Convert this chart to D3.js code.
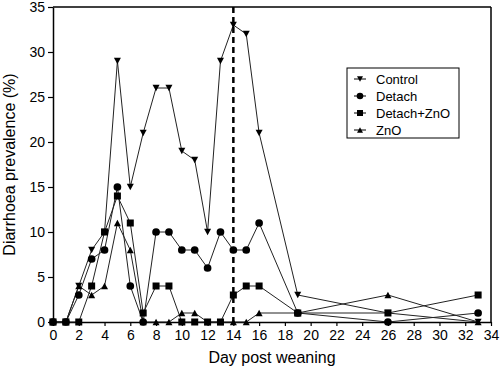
<!DOCTYPE html>
<html>
<head>
<meta charset="utf-8">
<script src="https://cdn.jsdelivr.net/npm/d3@7"></script>
<style>
	body { margin: 0; background: #fff; }
	text { font-family: "Liberation Sans", Arial, sans-serif; }
</style>
</head>
<body>
<div id="chart"></div>
<script>
// Days sampled post weaning
const days = [0, 1, 2, 3, 4, 5, 6, 7, 8, 9, 10, 11, 12, 13, 14, 15, 16, 19, 26, 33]

// Prevalence (%) per group
const control = [0, 0, 4, 8, 10, 29, 15, 21, 26, 26, 19, 18, 10, 29, 33, 32, 21, 3, 1, 0]
const detach = [0, 0, 3, 7, 8, 15, 4, 0, 10, 10, 8, 8, 6, 10, 8, 8, 11, 1, 0, 1]
const detachZnO = [0, 0, 0, 4, 10, 14, 11, 1, 4, 4, 0, 0, 0, 0, 3, 4, 4, 1, 1, 3]
const zno = [0, 0, 4, 3, 4, 11, 8, 0, 0, 0, 1, 1, 0, 0, 0, 0, 1, 1, 3, 0]

const xTicks = d3.range(0, 35, 2)
const yTicks = d3.range(0, 40, 5)
const weaningMark = 14

const series = [
	{ label: "Control", values: control, symbol: "down" },
	{ label: "Detach", values: detach, symbol: "circle" },
	{ label: "Detach+ZnO", values: detachZnO, symbol: "square" },
	{ label: "ZnO", values: zno, symbol: "up" },
]

const width = 500
const height = 375
const margin = { top: 7, right: 9, bottom: 53, left: 53 }

const svg = d3
	.select("#chart")
	.append("svg")
	.attr("width", width)
	.attr("height", height)

const xScale = d3
	.scaleLinear()
	.domain([0, 34])
	.range([margin.left, width - margin.right])

const yScale = d3
	.scaleLinear()
	.domain([0, 35])
	.range([height - margin.bottom, margin.top])

// Draw a marker shape centred at 0,0
const drawMarker = (g, symbol, s) => {
	if (symbol === "circle") {
		g.append("circle").attr("r", s * 0.55).attr("fill", "#000")
	} else if (symbol === "square") {
		g.append("rect")
			.attr("x", -s / 2)
			.attr("y", -s / 2)
			.attr("width", s)
			.attr("height", s)
			.attr("fill", "#000")
	} else {
		const h = s * 0.95
		const pts =
			symbol === "down"
				? [[-s / 2, -h / 2], [s / 2, -h / 2], [0, h / 2]]
				: [[-s / 2, h / 2], [s / 2, h / 2], [0, -h / 2]]
		g.append("path")
			.attr("d", "M" + pts.join("L") + "Z")
			.attr("fill", "#000")
	}
}

// Frame top and right
svg.append("line")
	.attr("x1", xScale(0))
	.attr("x2", xScale(34))
	.attr("y1", yScale(35))
	.attr("y2", yScale(35))
	.attr("stroke", "#000")
	.attr("stroke-width", 1.5)

svg.append("line")
	.attr("x1", xScale(34))
	.attr("x2", xScale(34))
	.attr("y1", yScale(35))
	.attr("y2", yScale(0))
	.attr("stroke", "#000")
	.attr("stroke-width", 1.5)

// Axes
const xAxis = svg
	.append("g")
	.attr("transform", `translate(0,${yScale(0)})`)
	.call(d3.axisBottom(xScale).tickValues(xTicks).tickSize(4).tickSizeOuter(0).tickPadding(4))

const yAxis = svg
	.append("g")
	.attr("transform", `translate(${xScale(0)},0)`)
	.call(d3.axisLeft(yScale).tickValues(yTicks).tickSize(5).tickSizeOuter(0).tickPadding(3))

;[xAxis, yAxis].forEach((ax) => {
	ax.select(".domain").attr("stroke-width", 1.5)
	ax.selectAll(".tick line").attr("stroke-width", 1.2)
	ax.selectAll("text")
		.style("font-size", "14px")
		.style("font-family", "Liberation Sans, Arial, sans-serif")
		.attr("fill", "#000")
})

// Lines
const line = d3
	.line()
	.x((d) => xScale(d.day))
	.y((d) => yScale(d.v))

series.forEach((s) => {
	const pts = days.map((day, i) => ({ day, v: s.values[i] }))
	svg.append("path")
		.datum(pts)
		.attr("fill", "none")
		.attr("stroke", "#222")
		.attr("stroke-width", 1)
		.attr("d", line)
})

// Dashed marker at day 14
svg.append("line")
	.attr("x1", xScale(weaningMark))
	.attr("x2", xScale(weaningMark))
	.attr("y1", yScale(35))
	.attr("y2", yScale(0))
	.attr("stroke", "#000")
	.attr("stroke-width", 2.5)
	.attr("stroke-dasharray", "6,4")

// Points
series.forEach((s) => {
	days.forEach((day, i) => {
		const g = svg
			.append("g")
			.attr("transform", `translate(${xScale(day)},${yScale(s.values[i])})`)
		drawMarker(g, s.symbol, 7)
	})
})

// Legend
const legend = svg.append("g").attr("transform", "translate(347,68)")

legend
	.append("rect")
	.attr("width", 112)
	.attr("height", 70)
	.attr("fill", "#fff")
	.attr("stroke", "#000")
	.attr("stroke-width", 1)

series.forEach((s, i) => {
	const row = legend.append("g").attr("transform", `translate(0, ${11 + i * 17})`)
	row.append("line")
		.attr("x1", 7)
		.attr("x2", 19)
		.attr("stroke", "#000")
		.attr("stroke-width", 1)
	const m = row.append("g").attr("transform", "translate(13,0)")
	drawMarker(m, s.symbol, 6)
	row.append("text")
		.attr("x", 29)
		.attr("y", 5)
		.text(s.label)
		.style("font-size", "13px")
})

// Axis titles
svg.append("text")
	.attr("x", (xScale(0) + xScale(34)) / 2)
	.attr("y", 363)
	.attr("text-anchor", "middle")
	.style("font-size", "16px")
	.text("Day post weaning")

svg.append("text")
	.attr("transform", `translate(15,${(yScale(0) + yScale(35)) / 2}) rotate(-90)`)
	.attr("text-anchor", "middle")
	.style("font-size", "16px")
	.text("Diarrhoea prevalence (%)")
</script>
</body>
</html>
